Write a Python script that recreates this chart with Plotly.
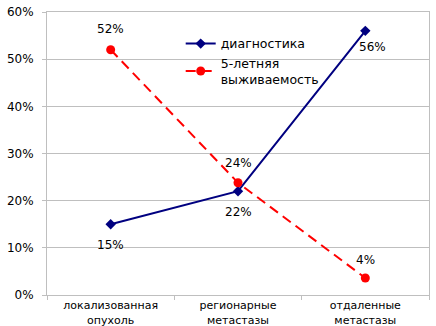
import plotly.graph_objects as go

categories = ["локализованная<br>опухоль", "регионарные<br>метастазы", "отдаленные<br>метастазы"]
diagnostics = [0.15, 0.22, 0.56]
survival = [0.52, 0.238, 0.036]
series_names = ["диагностика", "5-летняя<br>выживаемость"]
y_ticks = [0, 0.1, 0.2, 0.3, 0.4, 0.5, 0.6]

FONT = "DejaVu Sans"

fig = go.Figure()
fig.add_trace(go.Scatter(
    x=categories, y=diagnostics, name=series_names[0],
    mode="lines+markers",
    line=dict(color="#000080", width=2),
    marker=dict(symbol="diamond", size=8, color="#000080"),
))
fig.add_trace(go.Scatter(
    x=categories, y=survival, name=series_names[1],
    mode="lines+markers",
    line=dict(color="#FF0000", width=2, dash="10px,6px"),
    marker=dict(symbol="circle", size=9, color="#FF0000"),
))

# data labels (offsets are styling)
diag_shift = [(0, -21), (0, -21), (7, -16)]
surv_shift = [(0, 21), (0, 20), (0, 18)]
for cat, v, (dx, dy) in zip(categories, diagnostics, diag_shift):
    fig.add_annotation(x=cat, y=v, text=f"{v:.0%}", showarrow=False,
                       xshift=dx, yshift=dy,
                       font=dict(family=FONT, size=12, color="#000000"))
for cat, v, (dx, dy) in zip(categories, survival, surv_shift):
    fig.add_annotation(x=cat, y=v, text=f"{round(v*100)}%", showarrow=False,
                       xshift=dx, yshift=dy,
                       font=dict(family=FONT, size=12, color="#000000"))

fig.update_layout(
    width=436, height=326,
    margin=dict(l=47, r=7, t=12, b=31),
    paper_bgcolor="white", plot_bgcolor="white",
    font=dict(family=FONT, size=12, color="#000000"),
    showlegend=True,
    legend=dict(
        x=0.35, y=0.94, xanchor="left", yanchor="top",
        bgcolor="rgba(255,255,255,0)", borderwidth=0,
        font=dict(family=FONT, size=12.5, color="#000000"),
        itemwidth=30, tracegroupgap=2,
    ),
    xaxis=dict(
        type="category", range=[-0.5, 2.5],
        showgrid=False, showline=True, linecolor="#BFBFBF", linewidth=1,
        mirror=True,
        ticks="outside", tickson="boundaries", ticklen=4, tickcolor="#BFBFBF",
        tickfont=dict(family=FONT, size=11),
        automargin=False, zeroline=False,
    ),
    yaxis=dict(
        range=[0, 0.6], tickvals=y_ticks, tickformat=".0%",
        showgrid=True, gridcolor="#BFBFBF", gridwidth=1,
        showline=True, linecolor="#BFBFBF", linewidth=1, mirror=True,
        ticks="outside", ticklen=4, tickcolor="#BFBFBF",
        ticklabelstandoff=6,
        tickfont=dict(family=FONT, size=12),
        automargin=False, zeroline=False,
    ),
)

fig.write_html("out.html")
